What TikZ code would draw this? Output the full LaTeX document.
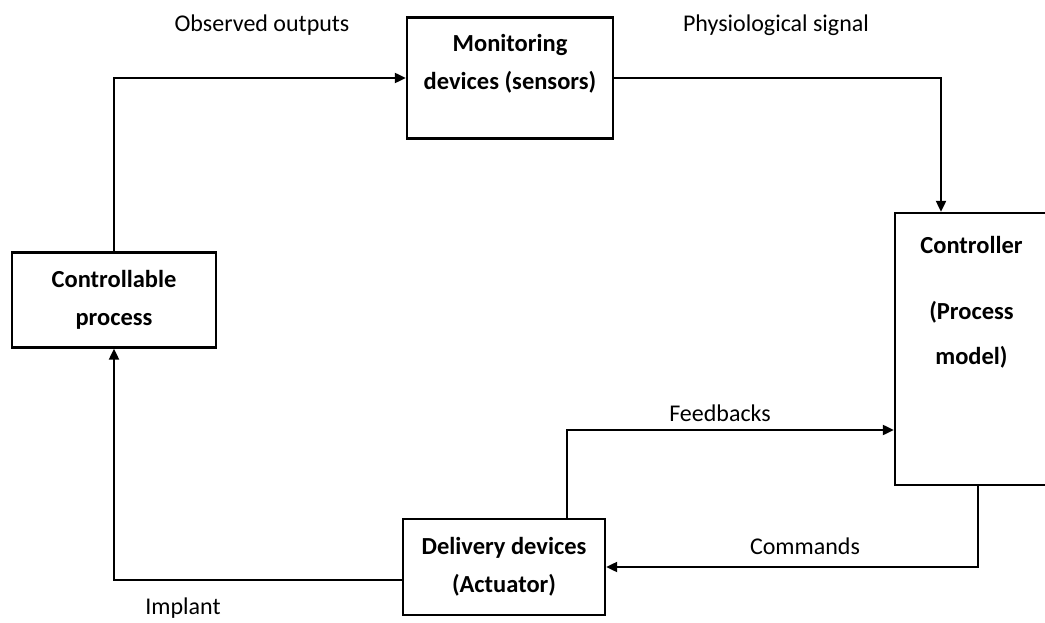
\documentclass[tikz,border=0pt]{standalone}
\usepackage{fontspec}
\setmainfont{Carlito}
\usetikzlibrary{arrows.meta,positioning,calc}

\begin{document}
\begin{tikzpicture}[
    x=1pt, y=-1pt,
    blockbox/.style={
        rectangle,
        draw=black,
        line width=2.4pt,
        fill=white,
        font=\fontsize{24.5}{38}\selectfont\bfseries,
        align=center,
        inner sep=0pt,
    },
    blocktext/.style={
        font=\fontsize{24.5}{38}\selectfont\bfseries,
        align=center,
        inner sep=0pt,
    },
    flowlabel/.style={
        font=\fontsize{24}{28}\selectfont,
        inner sep=0pt,
    },
    flow/.style={
        -{Triangle[length=11pt, width=10pt]},
        line width=2.2pt,
    },
]
\useasboundingbox (0,0) rectangle (1045,623);

% === Blocks ===
\node[blockbox, minimum width=204pt, minimum height=95pt] (proc) at (114, 300)
    {Controllable\\process};
\node[blockbox, minimum width=206pt, minimum height=121pt] (mon) at (510, 78) {};
\node[blocktext] (montext) at ($(mon.center)+(0,-14)$)
    {Monitoring\\devices (sensors)};
\node[blockbox, minimum width=153pt, minimum height=272pt] (ctrl) at (971.5, 349) {};
\node[blocktext, below=24pt of ctrl.north] (ctrltext)
    {Controller\\[28pt](Process\\[7pt]model)};
\node[blockbox, minimum width=202pt, minimum height=96pt] (del) at (504, 567)
    {Delivery devices\\(Actuator)};

% === Connection points ===
\coordinate (physin) at ($(ctrl.north)+(-30.5,0)$);
\coordinate (fbin) at ($(ctrl.west)+(0,81)$);
\coordinate (fbout) at ($(del.north)+(63,0)$);
\coordinate (cmdout) at ($(ctrl.south)+(6.5,0)$);
\coordinate (impout) at ($(del.west)+(0,13)$);

% === Arrows ===
\draw[flow] (proc.north) |- (mon.west);
\draw[flow] (mon.east) -| (physin);
\draw[flow] (fbout) |- (fbin);
\draw[flow] (cmdout) |- (del.east);
\draw[flow] (impout) -| (proc.south);

% === Labels ===
\node[flowlabel] (obs) at (262, 25) {Observed outputs};
\node[flowlabel] (phys) at (776, 25) {Physiological signal};
\node[flowlabel] (fb) at (720, 413) {Feedbacks};
\node[flowlabel] (cmd) at (805, 546) {Commands};
\node[flowlabel] (imp) at (183, 608) {Implant};

\end{tikzpicture}
\end{document}
